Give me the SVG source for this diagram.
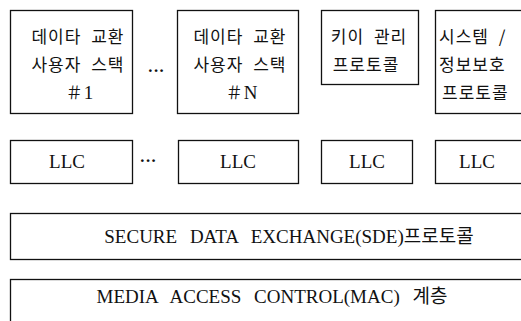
<svg xmlns="http://www.w3.org/2000/svg" width="521" height="321" viewBox="0 0 521 321">
  <style>
    .box { fill: #fff; stroke: #111; stroke-width: 1.3; }
    .ko { font-family: "Noto Sans CJK KR", sans-serif; font-size: 17px; fill: #111; letter-spacing: 1px; word-spacing: 5px; }
    .lat { font-family: "Liberation Serif", "Noto Sans CJK KR", serif; font-size: 19px; fill: #111; word-spacing: 8px; }
    .dots { font-family: "Liberation Serif", serif; font-size: 17px; font-weight: bold; fill: #111; }
  </style>
  <rect width="521" height="321" fill="#fff"/>

  <!-- upper stacks -->
  <g id="stack-1">
    <rect class="box" x="10.5" y="10.5" width="122" height="103"/>
    <text class="ko" x="78" y="43" text-anchor="middle">데이타 교환</text>
    <text class="ko" x="78" y="71" text-anchor="middle">사용자 스택</text>
    <text class="ko" x="80" y="99" text-anchor="middle">＃<tspan font-family="Liberation Serif" font-size="19">1</tspan></text>
  </g>
  <text class="dots" x="156" y="76" text-anchor="middle">···</text>
  <g id="stack-n">
    <rect class="box" x="177.5" y="10.5" width="121" height="103"/>
    <text class="ko" x="240" y="43" text-anchor="middle">데이타 교환</text>
    <text class="ko" x="240" y="71" text-anchor="middle">사용자 스택</text>
    <text class="ko" x="242" y="99" text-anchor="middle">＃<tspan font-family="Liberation Serif" font-size="19">N</tspan></text>
  </g>
  <g id="key-mgmt">
    <rect class="box" x="321.5" y="10.5" width="97" height="74"/>
    <text class="ko" x="369" y="43" text-anchor="middle">키이 관리</text>
    <text class="ko" x="366" y="71" text-anchor="middle">프로토콜</text>
  </g>
  <g id="sys-security">
    <rect class="box" x="435.5" y="10.5" width="100" height="103"/>
    <text class="ko" x="439" y="43">시스템 /</text>
    <text class="ko" x="439" y="71">정보보호</text>
    <text class="ko" x="442" y="99">프로토콜</text>
  </g>

  <!-- LLC row -->
  <g id="llc-1">
    <rect class="box" x="10.5" y="140.5" width="122" height="43"/>
    <text class="lat" x="67" y="168" text-anchor="middle">LLC</text>
  </g>
  <text class="dots" x="148" y="166" text-anchor="middle">···</text>
  <g id="llc-n">
    <rect class="box" x="178.5" y="140.5" width="120" height="43"/>
    <text class="lat" x="238" y="168" text-anchor="middle">LLC</text>
  </g>
  <g id="llc-key">
    <rect class="box" x="321.5" y="140.5" width="91" height="43"/>
    <text class="lat" x="367" y="168" text-anchor="middle">LLC</text>
  </g>
  <g id="llc-sys">
    <rect class="box" x="435.5" y="140.5" width="100" height="43"/>
    <text class="lat" x="477" y="168" text-anchor="middle">LLC</text>
  </g>

  <!-- lower layers -->
  <g id="sde">
    <rect class="box" x="10.5" y="213.5" width="530" height="46"/>
    <text class="lat" x="289" y="243" text-anchor="middle">SECURE DATA EXCHANGE(SDE)프로토콜</text>
  </g>
  <g id="mac">
    <rect class="box" x="10.5" y="279.5" width="530" height="60"/>
    <text class="lat" x="272" y="303" text-anchor="middle">MEDIA ACCESS CONTROL(MAC) 계층</text>
  </g>

  <g id="connectors"></g>
</svg>
